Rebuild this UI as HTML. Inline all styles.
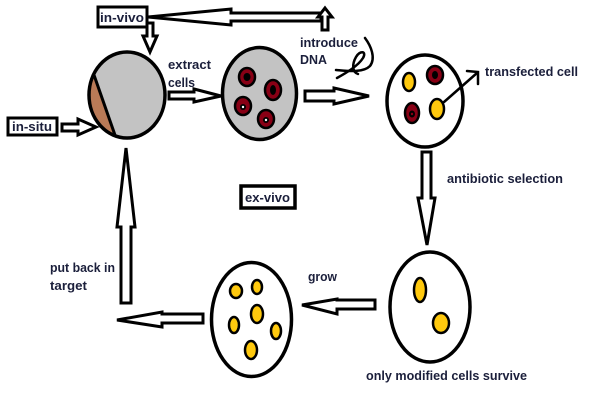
<!DOCTYPE html>
<html><head><meta charset="utf-8"><style>
html,body{margin:0;padding:0;background:#fff;}
svg{display:block;}
text{font-family:"Liberation Sans",Arial,sans-serif;font-weight:bold;font-size:13px;fill:#1b1f3b;}
</style></head><body>
<svg width="600" height="403" viewBox="0 0 600 403" xmlns="http://www.w3.org/2000/svg">
<defs>
<clipPath id="c1"><ellipse cx="127" cy="95" rx="38" ry="43"/></clipPath>
</defs>
<g fill="#fff" stroke="#000" stroke-width="3" stroke-linejoin="miter">
<!-- top long arrow pointing left to in-vivo -->
<polygon points="148,17 231,9 231,13 321,13 321,21 231,21 231,25"/>
<!-- small up arrow -->
<polygon points="325,8 332,17 328,17 328,30 322,30 322,17 318,17"/>
<!-- in-vivo down arrow -->
<polygon points="147,23 153,23 153,36 157,36 150,52 143,36 147,36"/>
<!-- in-situ arrow -->
<polygon points="62,124 78,124 78,119 96,127 78,135 78,131 62,131"/>
<!-- extract arrow -->
<polygon points="169,92 194,92 194,89 221,96 194,102 194,99 169,99"/>
<!-- introduce arrow -->
<polygon points="305,91 334,91 334,88 369,96 334,104 334,101 305,101"/>
<!-- antibiotic down arrow -->
<polygon points="422,152 431,152 431,198 435,198 427,245 418,198 422,198"/>
<!-- grow left arrow -->
<polygon points="375,300 375,309 337,309 337,314 302,305 337,299 337,300"/>
<!-- bottom left arrow -->
<polygon points="203,314 203,323 162,323 162,327 117,320 162,312 162,314"/>
<!-- put back up arrow -->
<polygon points="121,303 131,303 131,227 135,227 126,148 117,227 121,227"/>
</g>
<!-- boxes -->
<rect x="98" y="7" width="49" height="20" fill="#fff" stroke="#000" stroke-width="3"/>
<rect x="8" y="118" width="49" height="17" fill="#fff" stroke="#000" stroke-width="3"/>
<rect x="241" y="186" width="54" height="22" fill="#fff" stroke="#000" stroke-width="3.5"/>
<!-- circle 1 -->
<ellipse cx="127" cy="95" rx="38" ry="43" fill="#c3c3c3"/>
<polygon points="80,60 95,76 116,140 80,140" fill="#b97a57" clip-path="url(#c1)"/>
<line x1="94" y1="75" x2="116" y2="138" stroke="#000" stroke-width="3" clip-path="url(#c1)"/>
<ellipse cx="127" cy="95" rx="38" ry="43" fill="none" stroke="#000" stroke-width="3.5"/>
<!-- circle 2 -->
<ellipse cx="259.5" cy="93.5" rx="37" ry="46" fill="#c3c3c3" stroke="#000" stroke-width="3.5"/>
<g stroke="#000" stroke-width="2.5">
<ellipse cx="247" cy="77" rx="8" ry="9" fill="#880015"/>
<ellipse cx="273" cy="90" rx="8" ry="10" fill="#880015"/>
<ellipse cx="243" cy="106" rx="8" ry="9" fill="#880015"/>
<ellipse cx="266" cy="119" rx="8" ry="9" fill="#880015"/>
</g>
<g fill="#000">
<ellipse cx="247" cy="77" rx="3.5" ry="4"/>
<ellipse cx="273" cy="90" rx="3" ry="5"/>
<ellipse cx="243" cy="107" rx="3" ry="3"/>
<ellipse cx="266" cy="120" rx="3" ry="3"/>
</g>
<circle cx="243" cy="107" r="1.2" fill="#fff"/>
<circle cx="266" cy="120" r="1.2" fill="#fff"/>
<!-- DNA squiggle -->
<g fill="none" stroke="#000" stroke-width="2.5" stroke-linecap="round">
<path d="M365,38 C371,46 376,58 370,66 C363,73 348,71 336,70"/>
<path d="M337,78 C346,73 358,66 363,58 C367,51 360,50 356,57 C352,64 352,72 358,74"/>
</g>
<!-- circle 3 -->
<ellipse cx="425" cy="101" rx="38" ry="46" fill="#fff" stroke="#000" stroke-width="3.5"/>
<g stroke="#000" stroke-width="2.5">
<ellipse cx="409" cy="82" rx="6" ry="9" fill="#ffc90e"/>
<ellipse cx="435" cy="75" rx="8" ry="9" fill="#880015"/>
<ellipse cx="412" cy="113" rx="7" ry="10" fill="#880015"/>
<ellipse cx="437" cy="109" rx="7" ry="10" fill="#ffc90e"/>
</g>
<ellipse cx="435" cy="75" rx="3" ry="4" fill="#000"/>
<ellipse cx="412" cy="114" rx="3" ry="3.5" fill="#000"/>
<circle cx="412" cy="114" r="1.2" fill="#880015"/>
<g fill="none" stroke="#000" stroke-width="2.5" stroke-linecap="round">
<line x1="444" y1="102" x2="477" y2="73"/>
<polyline points="467,71 478,72 478,84"/>
</g>
<!-- circle 4 -->
<ellipse cx="430" cy="307" rx="40" ry="55" fill="#fff" stroke="#000" stroke-width="3.5"/>
<g stroke="#000" stroke-width="2.5" fill="#ffc90e">
<ellipse cx="420" cy="290" rx="6" ry="12"/>
<ellipse cx="441" cy="323" rx="8" ry="10"/>
</g>
<!-- circle 5 -->
<ellipse cx="251.5" cy="319.5" rx="40" ry="57" fill="#fff" stroke="#000" stroke-width="3.5"/>
<g stroke="#000" stroke-width="2.5" fill="#ffc90e">
<ellipse cx="236" cy="291" rx="6" ry="7"/>
<ellipse cx="257" cy="287" rx="5" ry="7"/>
<ellipse cx="257" cy="314" rx="6" ry="9"/>
<ellipse cx="234" cy="325" rx="5" ry="8"/>
<ellipse cx="276" cy="331" rx="5" ry="8"/>
<ellipse cx="251" cy="350" rx="6" ry="9"/>
</g>
<!-- labels -->
<text x="100" y="22" textLength="44" lengthAdjust="spacingAndGlyphs">in-vivo</text>
<text x="12" y="131" textLength="40" lengthAdjust="spacingAndGlyphs">in-situ</text>
<text x="245" y="202" textLength="45" lengthAdjust="spacingAndGlyphs">ex-vivo</text>
<text x="168" y="69" textLength="43" lengthAdjust="spacingAndGlyphs">extract</text>
<text x="168" y="87" textLength="27" lengthAdjust="spacingAndGlyphs">cells</text>
<text x="300" y="47" textLength="58" lengthAdjust="spacingAndGlyphs">introduce</text>
<text x="300" y="64" textLength="27" lengthAdjust="spacingAndGlyphs">DNA</text>
<text x="485" y="76" textLength="93" lengthAdjust="spacingAndGlyphs">transfected cell</text>
<text x="447" y="183" textLength="116" lengthAdjust="spacingAndGlyphs">antibiotic selection</text>
<text x="308" y="281" textLength="29" lengthAdjust="spacingAndGlyphs">grow</text>
<text x="50" y="272" textLength="65" lengthAdjust="spacingAndGlyphs">put back in</text>
<text x="50" y="290" textLength="37" lengthAdjust="spacingAndGlyphs">target</text>
<text x="366" y="380" textLength="161" lengthAdjust="spacingAndGlyphs">only modified cells survive</text>
</svg>
</body></html>
